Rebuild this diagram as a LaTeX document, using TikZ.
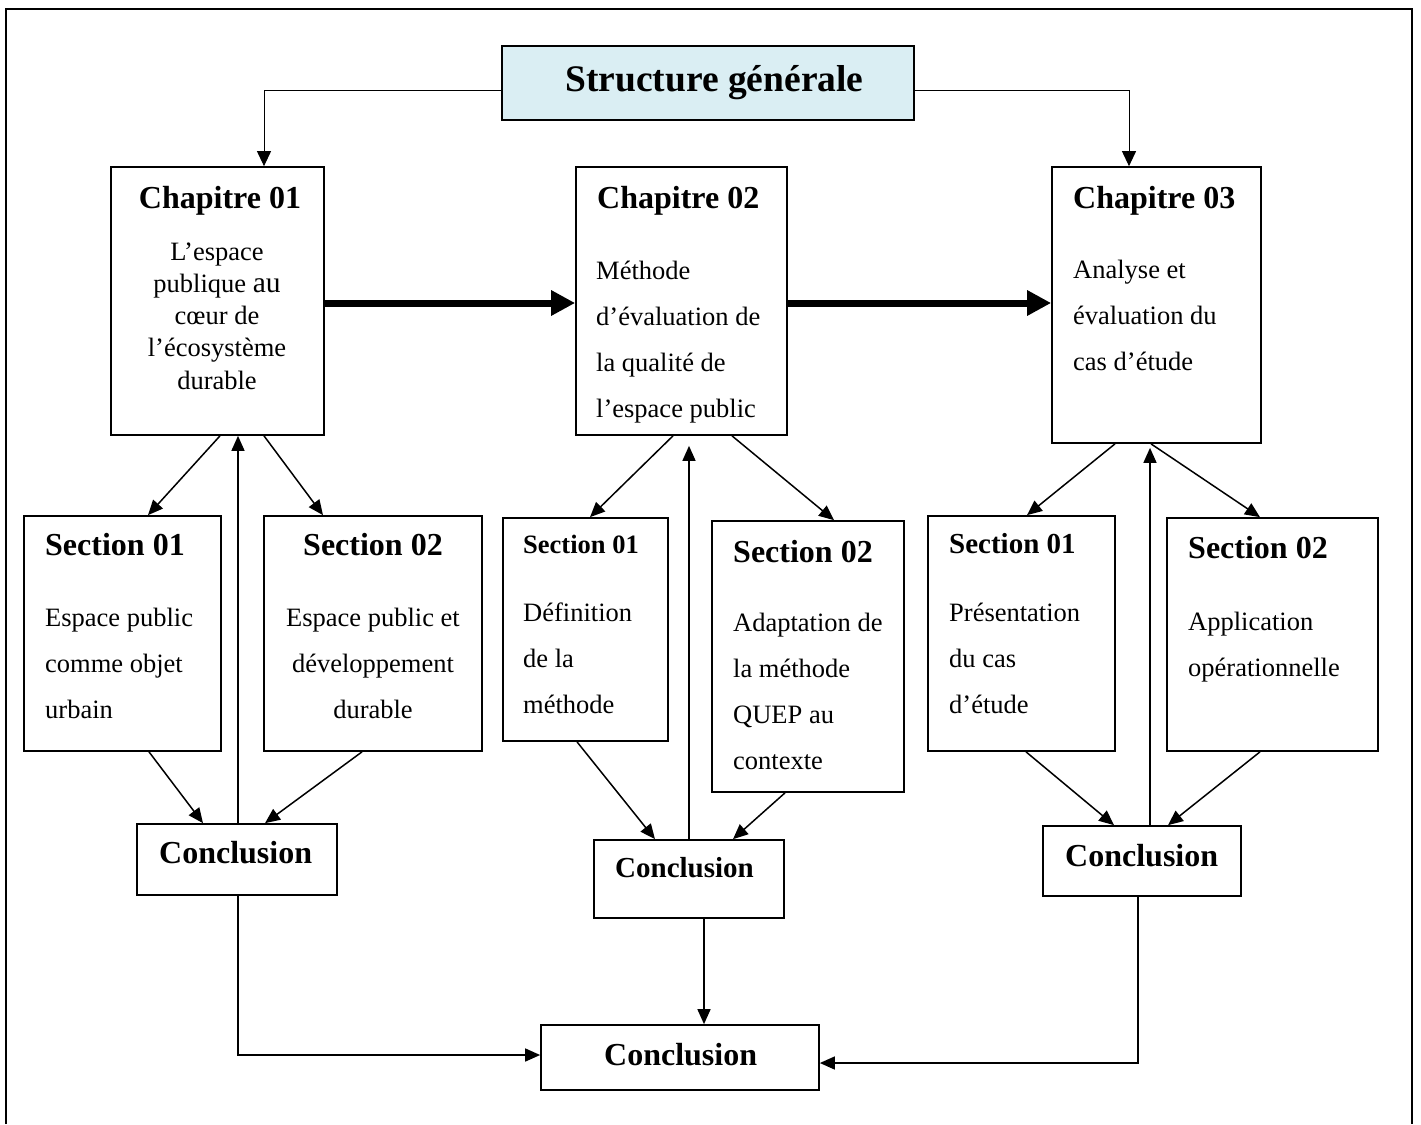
\documentclass[tikz,border=0pt]{standalone}
\usepackage{fontspec}
\setmainfont{Liberation Serif}
\usetikzlibrary{arrows.meta}
\definecolor{titlefill}{HTML}{DAEEF3}
\begin{document}
\begin{tikzpicture}[x=1pt,y=-1pt,
  box/.style={draw, line width=1.7pt, inner sep=0pt, fill=white},
  hd/.style={font=\fontsize{32}{36}\selectfont\bfseries, inner sep=0pt},
  hdm/.style={font=\fontsize{29}{33}\selectfont\bfseries, inner sep=0pt},
  hds/.style={font=\fontsize{26.5}{30}\selectfont\bfseries, inner sep=0pt},
  bodytxt/.style={font=\fontsize{26.5}{46}\selectfont, inner sep=0pt, align=left},
  conn/.style={line width=1.5pt, -{Triangle[length=15pt,width=13pt]}},
  bigconn/.style={line width=7pt, -{Triangle[length=24pt,width=24pt]}},
  topconn/.style={line width=1pt, -{Triangle[length=15pt,width=14pt]}}
]
\useasboundingbox (0,0) rectangle (1421,1124);
% outer frame
\draw[line width=1.7pt] (6,1124) -- (6,9) -- (1412,9) -- (1412,1124);

% boxes
\node[box, fill=titlefill, minimum width=412pt, minimum height=74pt] (T) at (708,83) {};
\node[box, minimum width=213pt, minimum height=268pt] (ch1) at (217.5,301) {};
\node[box, minimum width=211pt, minimum height=268pt] (ch2) at (681.5,301) {};
\node[box, minimum width=209pt, minimum height=276pt] (ch3) at (1156.5,305) {};
\node[box, minimum width=197pt, minimum height=235pt] (s11) at (122.5,633.5) {};
\node[box, minimum width=218pt, minimum height=235pt] (s12) at (373,633.5) {};
\node[box, minimum width=200pt, minimum height=71pt] (c1) at (237,859.5) {};
\node[box, minimum width=165pt, minimum height=223pt] (s21) at (585.5,629.5) {};
\node[box, minimum width=192pt, minimum height=271pt] (s22) at (808,656.5) {};
\node[box, minimum width=190pt, minimum height=78pt] (c2) at (689,879) {};
\node[box, minimum width=187pt, minimum height=235pt] (s31) at (1021.5,633.5) {};
\node[box, minimum width=211pt, minimum height=233pt] (s32) at (1272.5,634.5) {};
\node[box, minimum width=198pt, minimum height=70pt] (c3) at (1142,861) {};
\node[box, minimum width=278pt, minimum height=65pt] (F) at (680,1057.5) {};

% texts (multi-line nodes: base anchor = baseline of the last line)
\node[font=\fontsize{37.5}{40}\selectfont\bfseries, inner sep=0pt, anchor=base] (Tt) at (714.5,91) {Structure générale};

\node[hd, anchor=base] (ch1h) at (220,208) {Chapitre 01};
\node[font=\fontsize{26.5}{32.2}\selectfont, inner sep=0pt, align=center, anchor=base] (ch1b) at (217,389)
  {L’espace\\publique {\fontsize{29.5}{32.2}\selectfont au}\\cœur de\\l’écosystème\\durable};

\node[hd, anchor=base west] (ch2h) at (597,208) {Chapitre 02};
\node[bodytxt, anchor=base west] (ch2b) at (596,417)
  {Méthode\\d’évaluation de\\la qualité de\\l’espace public};

\node[hd, anchor=base west] (ch3h) at (1073,208) {Chapitre 03};
\node[bodytxt, anchor=base west] (ch3b) at (1073,370)
  {Analyse et\\évaluation du\\cas d’étude};

\node[hd, anchor=base west] (s11h) at (45,555) {Section 01};
\node[bodytxt, anchor=base west] (s11b) at (45,718)
  {Espace public\\comme objet\\urbain};

\node[hd, anchor=base] (s12h) at (373,555) {Section 02};
\node[bodytxt, align=center, anchor=base] (s12b) at (373,718)
  {Espace public et\\développement\\durable};

\node[hds, anchor=base west] (s21h) at (523,553) {Section 01};
\node[bodytxt, anchor=base west] (s21b) at (523,713)
  {Définition\\de la\\méthode};

\node[hd, anchor=base west] (s22h) at (733,562) {Section 02};
\node[bodytxt, anchor=base west] (s22b) at (733,769)
  {Adaptation de\\la méthode\\QUEP au\\contexte};

\node[hdm, anchor=base west] (s31h) at (949,553) {Section 01};
\node[bodytxt, anchor=base west] (s31b) at (949,713)
  {Présentation\\du cas\\d’étude};

\node[hd, anchor=base west] (s32h) at (1188,558) {Section 02};
\node[bodytxt, anchor=base west] (s32b) at (1188,676)
  {Application\\opérationnelle};

\node[hd, anchor=base west] (c1t) at (159,863) {Conclusion};
\node[hdm, anchor=base west] (c2t) at (615,877) {Conclusion};
\node[hd, anchor=base west] (c3t) at (1065,866) {Conclusion};
\node[hd, anchor=base west] (Ft) at (604,1065) {Conclusion};

% title connectors
\draw[topconn] ([yshift=-7pt]T.west) -| ([xshift=46.5pt]ch1.north);
\draw[topconn] ([yshift=-7pt]T.east) -| ([xshift=-27.5pt]ch3.north);

% big arrows between chapters
\draw[bigconn] ([yshift=-2pt]ch1.east) -- ([yshift=-2pt]ch1.east -| ch2.west);
\draw[bigconn] ([yshift=-2pt]ch2.east) -- ([yshift=-2pt]ch2.east -| ch3.west);

% chapter 1
\draw[conn] ([xshift=2.5pt]ch1.south) -- ([xshift=25.5pt]s11.north);
\draw[conn] ([xshift=46.5pt]ch1.south) -- ([xshift=-50pt]s12.north);
\draw[conn] ([xshift=26.5pt]s11.south) -- ([xshift=-34pt]c1.north);
\draw[conn] ([xshift=-11pt]s12.south) -- ([xshift=28pt]c1.north);
\draw[conn] ([xshift=1pt]c1.north) -- ([xshift=1pt]c1.north |- ch1.south);

% chapter 2
\draw[conn] ([xshift=-8.5pt]ch2.south) -- ([xshift=4.5pt]s21.north);
\draw[conn] ([xshift=50.5pt]ch2.south) -- ([xshift=26pt]s22.north);
\draw[conn] ([xshift=-8.5pt]s21.south) -- ([xshift=-34pt]c2.north);
\draw[conn] ([xshift=-23pt]s22.south) -- ([xshift=44pt]c2.north);
\draw[conn, shorten >=10pt] (c2.north) -- (c2.north |- ch2.south);

% chapter 3
\draw[conn] ([xshift=-41.5pt]ch3.south) -- ([xshift=5.5pt]s31.north);
\draw[conn] ([xshift=-5.5pt]ch3.south) -- ([xshift=-12.5pt]s32.north);
\draw[conn] ([xshift=4.5pt]s31.south) -- ([xshift=-28pt]c3.north);
\draw[conn] ([xshift=-12.5pt]s32.south) -- ([xshift=26pt]c3.north);
\draw[conn, shorten >=4pt] ([xshift=8pt]c3.north) -- ([xshift=8pt]c3.north |- ch3.south);

% to final conclusion
\draw[conn] ([xshift=1pt]c1.south) |- ([yshift=2.5pt]F.west);
\draw[conn] ([xshift=15pt]c2.south) -- ([xshift=15pt]c2.south |- F.north);
\draw[conn] ([xshift=-4pt]c3.south) |- ([yshift=-5.5pt]F.east);
\end{tikzpicture}
\end{document}
